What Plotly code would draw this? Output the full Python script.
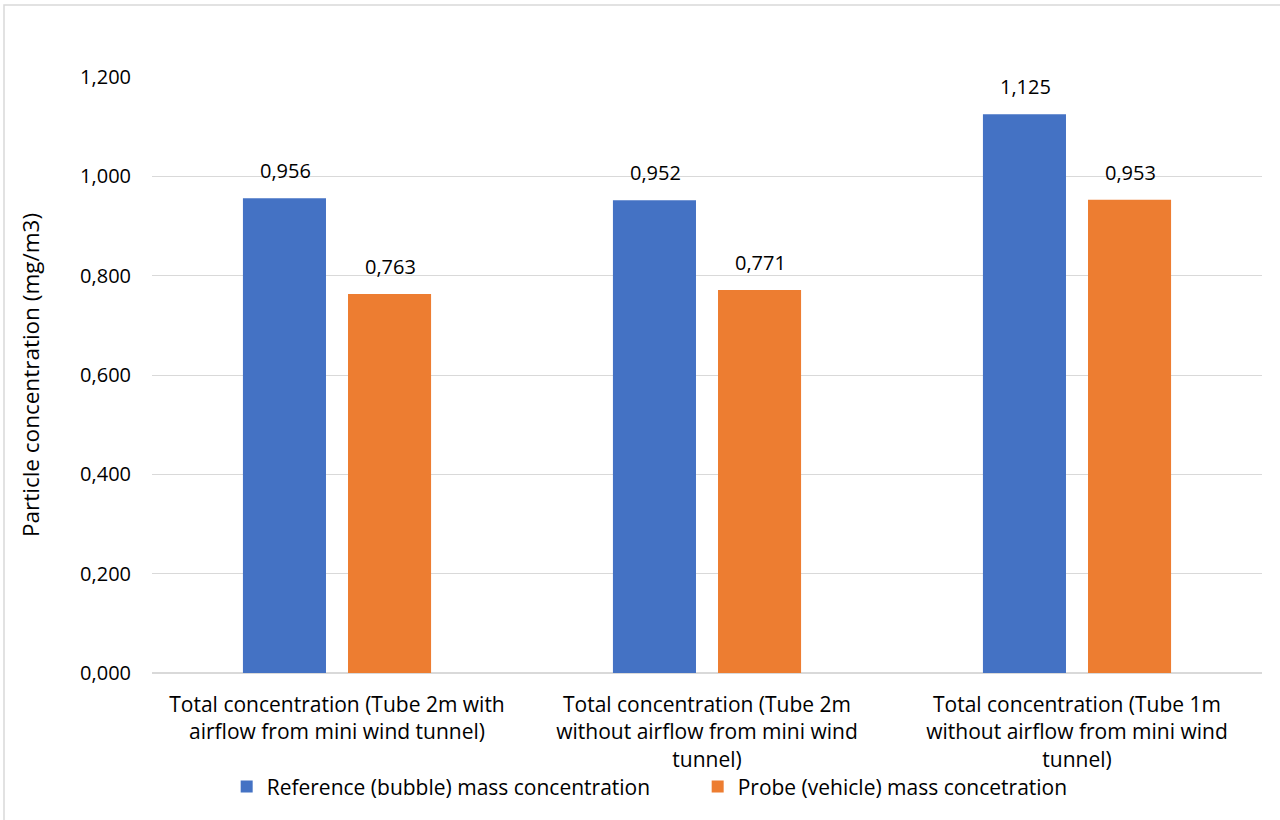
import plotly.graph_objects as go

categories = [
    "Total concentration (Tube 2m with<br>airflow from mini wind tunnel)",
    "Total concentration (Tube 2m<br>without airflow from mini wind<br>tunnel)",
    "Total concentration (Tube 1m<br>without airflow from mini wind<br>tunnel)",
]
reference_values = [0.956, 0.952, 1.125]
probe_values = [0.763, 0.771, 0.953]
series_names = ["Reference (bubble) mass concentration", "Probe (vehicle) mass concetration"]
colors = ["#4472C4", "#ED7D31"]
tick_values = [0, 0.2, 0.4, 0.6, 0.8, 1.0, 1.2]

FONT = "Open Sans"
FS = 21
W, H = 1280, 820
L, R, T, B = 152, 18, 77, 147
pw, ph = W - L - R, H - T - B

def fmt(v):
    return f"{v:.3f}".replace(".", ",")

fig = go.Figure()
for name, vals, col in zip(series_names, [reference_values, probe_values], colors):
    fig.add_trace(go.Bar(
        x=categories, y=vals, name=name, marker=dict(color=col, line=dict(width=0)),
    ))

annotations = []
for vals, shift in [(reference_values, -52), (probe_values, 53)]:
    for c, v in zip(categories, vals):
        annotations.append(dict(
            x=c, y=v, text=fmt(v), showarrow=False, xshift=shift, yshift=12,
            yanchor="bottom", font=dict(family=FONT, size=20, color="#000000"),
        ))

fig.update_layout(
    width=W, height=H,
    margin=dict(l=L, r=R, t=T, b=B),
    paper_bgcolor="white", plot_bgcolor="white",
    barmode="group", bargap=0.432, bargroupgap=0.2095,
    separators=",.",
    font=dict(family=FONT, size=FS, color="#000000"),
    showlegend=True,
    legend=dict(orientation="h", x=0.4916, xanchor="center", y=-0.191, yanchor="middle",
                font=dict(family=FONT, size=FS), itemsizing="constant",
                entrywidth=426, entrywidthmode="pixels",
                traceorder="normal", bgcolor="rgba(0,0,0,0)"),
    annotations=annotations,
    shapes=[dict(type="rect", xref="paper", yref="paper",
                 x0=(4 - L) / pw, x1=(W + 10 - L) / pw,
                 y0=(H - B - (H + 10)) / ph, y1=(H - B - 5) / ph,
                 line=dict(color="#d9d9d9", width=1.5), layer="below")],
)
fig.update_xaxes(showgrid=False, showline=False, ticks="", tickfont=dict(size=FS),
                 ticklabelstandoff=17)
fig.update_yaxes(range=[0, 1.2], tickvals=tick_values, tickformat=".3f",
                 showgrid=True, gridcolor="#d9d9d9", gridwidth=1,
                 zeroline=True, zerolinecolor="#d9d9d9", zerolinewidth=1.5,
                 showline=False, ticks="", ticklabelstandoff=20,
                 tickfont=dict(size=20),
                 title=dict(text="Particle concentration (mg/m3)", font=dict(size=22.5), standoff=34))

fig.write_html("out.html")
